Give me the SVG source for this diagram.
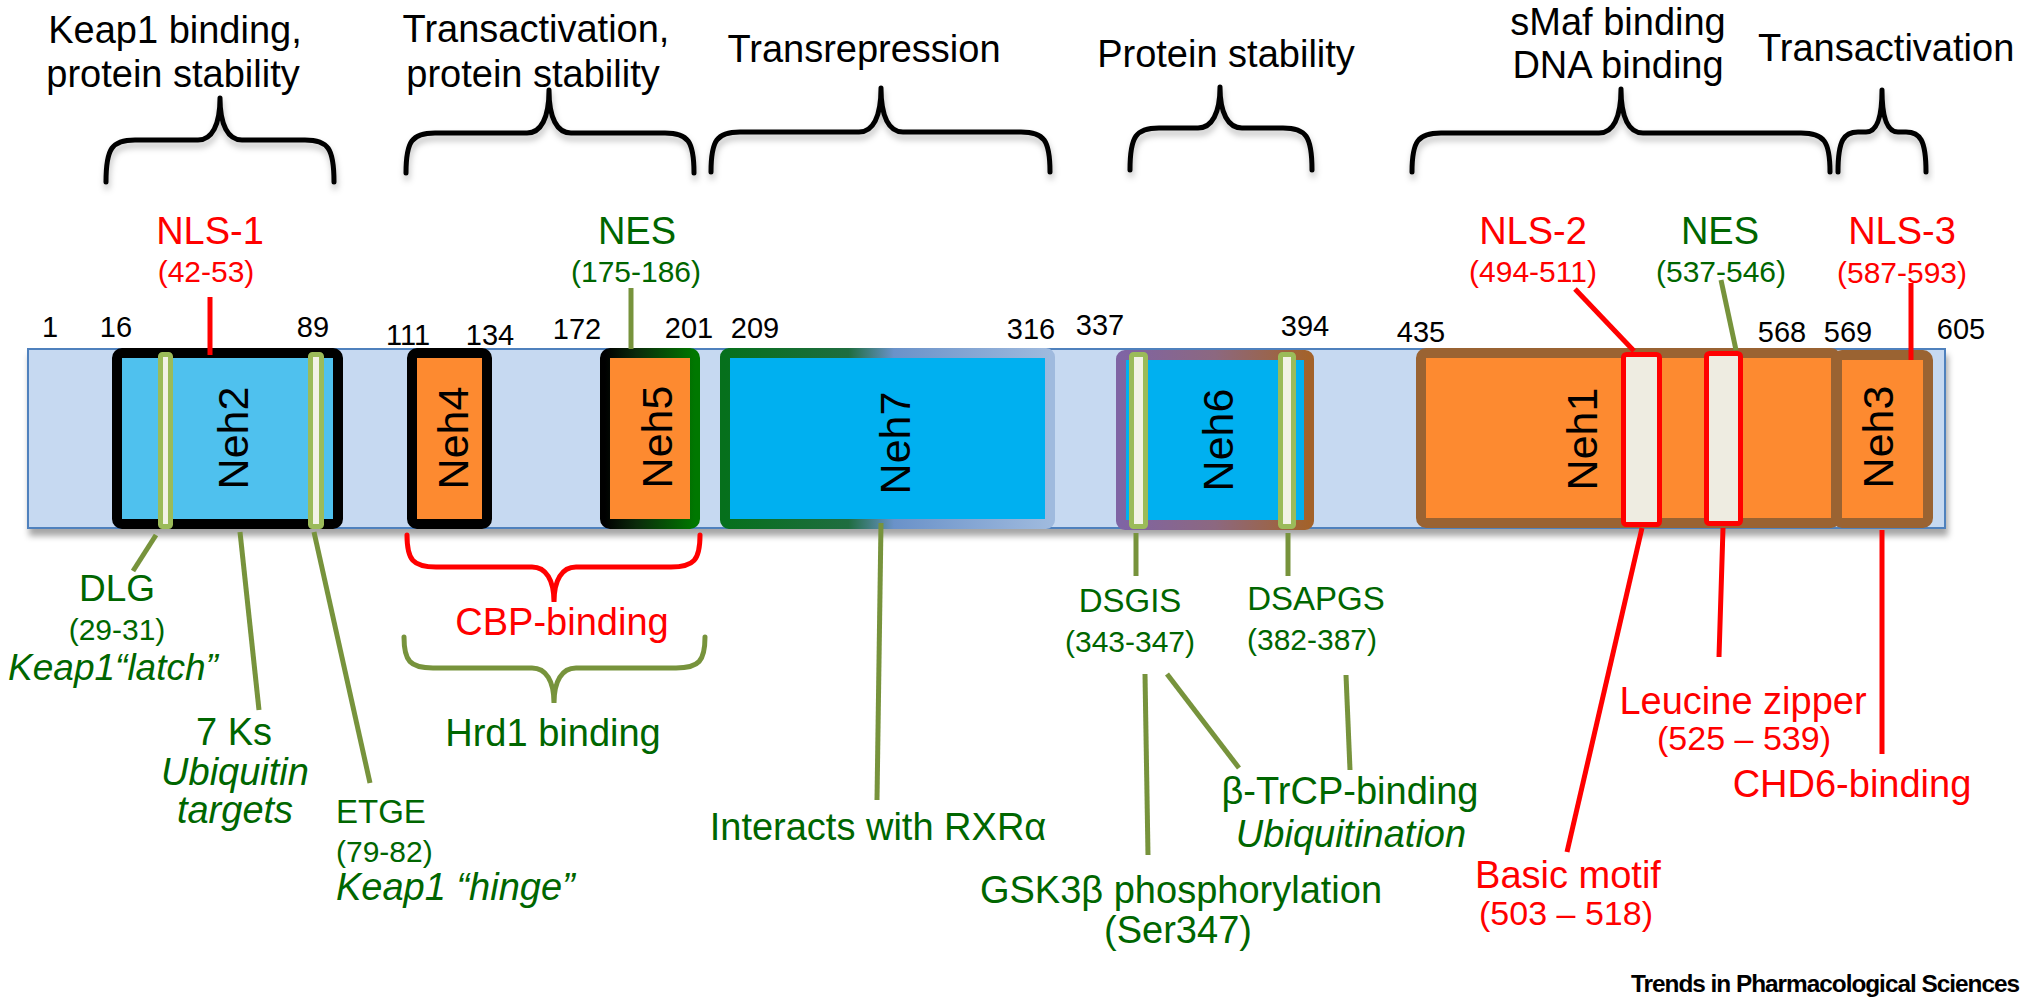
<svg xmlns="http://www.w3.org/2000/svg" width="2021" height="998" viewBox="0 0 2021 998">
<style>
text{font-family:"Liberation Sans",Arial,sans-serif}
.h{font-size:38px;fill:#000;text-anchor:middle}
.num{font-size:29px;fill:#000;text-anchor:middle}
.red{font-size:38px;fill:#ff0000;text-anchor:middle}
.grn{font-size:38px;fill:#006600;text-anchor:middle}
.sm{font-size:30px}
.it{font-style:italic}
.neh{font-size:43px;fill:#000;text-anchor:middle}
.brace{fill:none;stroke:#000;stroke-width:5;stroke-linecap:round;stroke-linejoin:round}
.gl{stroke:#77933c;stroke-width:5;fill:none}
.rl{stroke:#ff0000;stroke-width:5;fill:none}
.mark{fill:#f2f2e6;stroke:#9bbb59;stroke-width:5}
.rmark{fill:#eeece1;stroke:#ff0000;stroke-width:5}
.orange{fill:#fd8a30}
</style>
<defs>
<filter id="sh" x="-5%" y="-20%" width="110%" height="150%">
<feDropShadow dx="2" dy="7" stdDeviation="3" flood-color="#000" flood-opacity="0.35"/>
</filter>
<filter id="bsh" x="-10%" y="-20%" width="120%" height="160%">
<feDropShadow dx="1" dy="5" stdDeviation="3" flood-color="#000" flood-opacity="0.25"/>
</filter>
<linearGradient id="g5" x1="0" y1="0" x2="1" y2="0">
<stop offset="0" stop-color="#000"/><stop offset="0.35" stop-color="#0b2a0b"/><stop offset="1" stop-color="#007800"/>
</linearGradient>
<linearGradient id="g7" x1="0" y1="0" x2="1" y2="0">
<stop offset="0" stop-color="#06701c"/><stop offset="0.38" stop-color="#1f6d40"/><stop offset="0.52" stop-color="#6a92c9"/><stop offset="1" stop-color="#9fbade"/>
</linearGradient>
<linearGradient id="g6" x1="0" y1="0" x2="1" y2="0">
<stop offset="0" stop-color="#7f64a4"/><stop offset="0.5" stop-color="#8c6880"/><stop offset="1" stop-color="#a3622a"/>
</linearGradient>
</defs>
<rect width="2021" height="998" fill="#fff"/>

<!-- headings with braces -->
<g id="head-keap1">
<text class="h" x="175" y="43">Keap1 binding,</text>
<text class="h" x="173" y="87">protein stability</text>
<path class="brace" filter="url(#bsh)" d="M106,182 C106,148 112,140 135,140 L198,140 C212,140 220,125 220,98 C220,125 228,140 242,140 L305,140 C328,140 334,148 334,182"/>
</g>
<g id="head-transact1">
<text class="h" x="536" y="42">Transactivation,</text>
<text class="h" x="533" y="87">protein stability</text>
<path class="brace" filter="url(#bsh)" d="M406,173 C406,141 412,133 435,133 L527,133 C541,133 549,118 549,90 C549,118 557,133 571,133 L665,133 C688,133 694,141 694,173"/>
</g>
<g id="head-transrep">
<text class="h" x="864" y="62">Transrepression</text>
<path class="brace" filter="url(#bsh)" d="M711,172 C711,140 717,132 740,132 L859,132 C873,132 881,117 881,88 C881,117 889,132 903,132 L1021,132 C1044,132 1050,140 1050,172"/>
</g>
<g id="head-stab">
<text class="h" x="1226" y="67">Protein stability</text>
<path class="brace" filter="url(#bsh)" d="M1130,170 C1130,136 1136,128 1159,128 L1198,128 C1212,128 1220,113 1220,87 C1220,113 1228,128 1242,128 L1283,128 C1306,128 1312,136 1312,170"/>
</g>
<g id="head-smaf">
<text class="h" x="1618" y="35">sMaf binding</text>
<text class="h" x="1618" y="78">DNA binding</text>
<path class="brace" filter="url(#bsh)" d="M1412,172 C1412,141 1418,133 1441,133 L1599,133 C1613,133 1621,118 1621,89 C1621,118 1629,133 1643,133 L1801,133 C1824,133 1830,141 1830,172"/>
</g>
<g id="head-transact2">
<text class="h" x="1758" y="61" style="text-anchor:start">Transactivation</text>
<path class="brace" filter="url(#bsh)" d="M1838,172 C1838,140 1844,132 1858,132 L1866,132 C1876,132 1882,120 1882,90 C1882,120 1888,132 1898,132 L1906,132 C1920,132 1926,140 1926,172"/>
</g>

<!-- backbone -->
<g id="backbone">
<rect x="28" y="349" width="1917" height="179" fill="#c6d9f1" stroke="#4f81bd" stroke-width="2" filter="url(#sh)"/>
</g>

<!-- residue numbers -->
<g id="numbers">
<text class="num" x="50" y="337">1</text>
<text class="num" x="116" y="337">16</text>
<text class="num" x="313" y="337">89</text>
<text class="num" x="408" y="345">111</text>
<text class="num" x="490" y="345">134</text>
<text class="num" x="577" y="339">172</text>
<text class="num" x="689" y="338">201</text>
<text class="num" x="755" y="338">209</text>
<text class="num" x="1031" y="339">316</text>
<text class="num" x="1100" y="335">337</text>
<text class="num" x="1305" y="336">394</text>
<text class="num" x="1421" y="342">435</text>
<text class="num" x="1782" y="342">568</text>
<text class="num" x="1848" y="342">569</text>
<text class="num" x="1961" y="339">605</text>
</g>

<!-- domains -->
<g id="neh2">
<rect x="117" y="353" width="221" height="171" rx="5" fill="#4fc1ee" stroke="#000" stroke-width="10"/>
<rect class="mark" x="160.5" y="354.5" width="10" height="172" rx="2"/>
<rect class="mark" x="310.5" y="354.5" width="11" height="172" rx="2"/>
<text class="neh" transform="translate(248,438) rotate(-90)">Neh2</text>
</g>
<g id="neh4">
<rect class="orange" x="412" y="353" width="75" height="171" rx="5" stroke="#000" stroke-width="10"/>
<text class="neh" transform="translate(468,438) rotate(-90)">Neh4</text>
</g>
<g id="neh5">
<rect class="orange" x="605" y="353" width="90" height="171" rx="5" stroke="url(#g5)" stroke-width="10"/>
<text class="neh" transform="translate(672,437) rotate(-90)">Neh5</text>
</g>
<g id="neh7">
<rect x="725" y="353" width="325" height="171" rx="4" fill="#00b0f0" stroke="url(#g7)" stroke-width="10"/>
<text class="neh" transform="translate(910,443) rotate(-90)">Neh7</text>
</g>
<g id="neh6">
<rect x="1121" y="355" width="188" height="170" rx="4" fill="#00b0f0" stroke="url(#g6)" stroke-width="10"/>
<rect class="mark" x="1131.5" y="354.5" width="14" height="172" rx="2"/>
<rect class="mark" x="1280.5" y="354.5" width="13" height="172" rx="2"/>
<text class="neh" transform="translate(1233,440) rotate(-90)">Neh6</text>
</g>
<g id="neh1">
<rect class="orange" x="1421" y="353" width="415" height="170" rx="5" stroke="#9a6332" stroke-width="10"/>
<rect class="rmark" x="1623.5" y="354.5" width="36" height="170" rx="3"/>
<rect class="rmark" x="1706.5" y="353.5" width="34" height="170" rx="3"/>
<text class="neh" transform="translate(1597,439) rotate(-90)">Neh1</text>
</g>
<g id="neh3">
<rect class="orange" x="1837" y="355" width="91" height="168" rx="5" stroke="#9a6332" stroke-width="10"/>
<text class="neh" transform="translate(1893,437) rotate(-90)">Neh3</text>
</g>

<!-- upper site labels -->
<g id="nls1"><text class="red" x="210" y="244">NLS-1</text><text class="red sm" x="206" y="282">(42-53)</text></g>
<g id="nes1"><text class="grn" x="637" y="244">NES</text><text class="grn sm" x="636" y="282">(175-186)</text></g>
<g id="nls2"><text class="red" x="1533" y="244">NLS-2</text><text class="red sm" x="1533" y="282">(494-511)</text></g>
<g id="nes2"><text class="grn" x="1720" y="244">NES</text><text class="grn sm" x="1721" y="282">(537-546)</text></g>
<g id="nls3"><text class="red" x="1902" y="244">NLS-3</text><text class="red sm" x="1902" y="283">(587-593)</text></g>

<!-- lower labels -->
<g id="dlg"><text class="grn" x="117" y="601" style="font-size:37px">DLG</text><text class="grn sm" x="117" y="640">(29-31)</text><text class="grn it" x="113" y="680" style="font-size:37px">Keap1“latch”</text></g>
<g id="ks"><text class="grn" x="234" y="745">7 Ks</text><text class="grn it" x="235" y="785">Ubiquitin</text><text class="grn it" x="235" y="823">targets</text></g>
<g id="etge"><text class="grn" x="336" y="823" style="text-anchor:start;font-size:33px">ETGE</text><text class="grn sm" x="336" y="862" style="text-anchor:start">(79-82)</text><text class="grn it" x="336" y="900" style="text-anchor:start">Keap1 “hinge”</text></g>
<g id="cbp">
<path d="M407,535 C407,560 413,567 436,567 L532,567 C546,567 554,580 554,602 C554,580 562,567 576,567 L671,567 C694,567 700,560 700,535" fill="none" stroke="#ff0000" stroke-width="5" stroke-linecap="round"/>
<text class="red" x="562" y="635">CBP-binding</text>
</g>
<g id="hrd1">
<path d="M404,637 C404,661 410,668 433,668 L532,668 C546,668 554,681 554,703 C554,681 562,668 576,668 L676,668 C699,668 705,661 705,637" fill="none" stroke="#77933c" stroke-width="5" stroke-linecap="round"/>
<text class="grn" x="553" y="746">Hrd1 binding</text>
</g>
<g id="rxr"><text class="grn" x="878" y="840">Interacts with RXRα</text></g>
<g id="dsgis"><text class="grn" x="1130" y="612" style="font-size:33px">DSGIS</text><text class="grn sm" x="1130" y="652">(343-347)</text></g>
<g id="dsapgs"><text class="grn" x="1316" y="610" style="font-size:33px">DSAPGS</text><text class="grn sm" x="1312" y="650">(382-387)</text></g>
<g id="gsk"><text class="grn" x="1181" y="903">GSK3β phosphorylation</text><text class="grn" x="1178" y="943">(Ser347)</text></g>
<g id="btrcp"><text class="grn" x="1350" y="804">β-TrCP-binding</text><text class="grn it" x="1351" y="847">Ubiquitination</text></g>
<g id="basic"><text class="red" x="1568" y="888">Basic motif</text><text class="red" x="1566" y="925" style="font-size:34px">(503 – 518)</text></g>
<g id="leucine"><text class="red" x="1743" y="714">Leucine zipper</text><text class="red" x="1744" y="750" style="font-size:34px">(525 – 539)</text></g>
<g id="chd6"><text class="red" x="1852" y="797">CHD6-binding</text></g>

<!-- connectors -->
<g id="connectors" stroke-linecap="butt">
<line class="rl" x1="210" y1="297" x2="210" y2="355"/>
<line class="gl" x1="631" y1="288" x2="631" y2="349"/>
<line class="rl" x1="1575" y1="289" x2="1634" y2="351"/>
<line class="gl" x1="1721" y1="280" x2="1736" y2="350"/>
<line class="rl" x1="1911" y1="283" x2="1911" y2="360"/>
<line class="gl" x1="156" y1="535" x2="133" y2="571"/>
<line class="gl" x1="240" y1="532" x2="259" y2="710"/>
<line class="gl" x1="314" y1="532" x2="370" y2="783"/>
<line class="gl" x1="881" y1="523" x2="877" y2="800"/>
<line class="gl" x1="1136" y1="533" x2="1136" y2="576"/>
<line class="gl" x1="1288" y1="533" x2="1288" y2="576"/>
<line class="gl" x1="1145" y1="674" x2="1148" y2="855"/>
<line class="gl" x1="1167" y1="674" x2="1239" y2="768"/>
<line class="gl" x1="1346" y1="675" x2="1350" y2="770"/>
<line class="rl" x1="1642" y1="528" x2="1567" y2="852"/>
<line class="rl" x1="1723" y1="528" x2="1719" y2="657"/>
<line class="rl" x1="1882" y1="530" x2="1882" y2="754"/>
</g>

<text x="2019" y="992" style="font-size:24px;font-weight:bold;text-anchor:end;letter-spacing:-1px" textLength="388" lengthAdjust="spacingAndGlyphs">Trends in Pharmacological Sciences</text>
</svg>
